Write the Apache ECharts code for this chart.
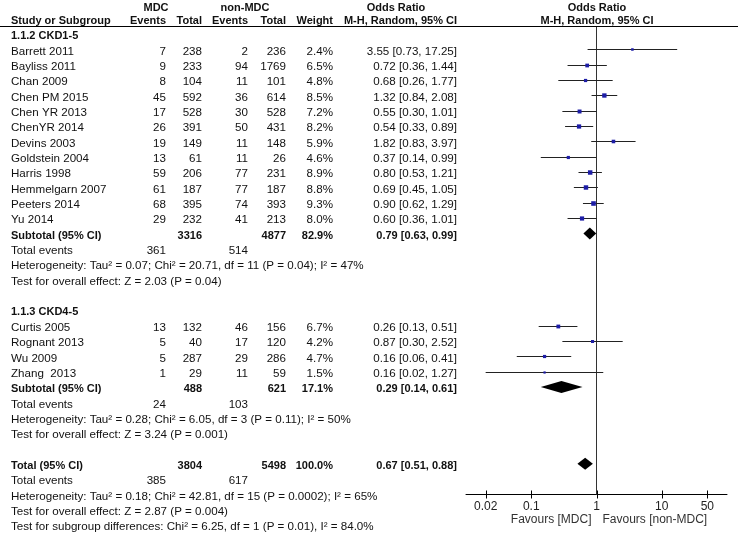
<!DOCTYPE html>
<html><head><meta charset="utf-8">
<script src="https://cdn.jsdelivr.net/npm/echarts@6/dist/echarts.min.js"></script>
<style>html,body{margin:0;padding:0;background:#fff}#c{width:738px;height:533px}</style>
</head><body><div id="c"></div>
<script>
// ---- data ----
const groupNames = ["1.1.2 CKD1-5", "1.1.3 CKD4-5"];
const studies1 = ["Barrett 2011","Bayliss 2011","Chan 2009","Chen PM 2015","Chen YR 2013","ChenYR 2014","Devins 2003","Goldstein 2004","Harris 1998","Hemmelgarn 2007","Peeters 2014","Yu 2014"];
const mdcEvents1 = [7,9,8,45,17,26,19,13,59,61,68,29];
const mdcTotal1 = [238,233,104,592,528,391,149,61,206,187,395,232];
const nonEvents1 = [2,94,11,36,30,50,11,11,77,77,74,41];
const nonTotal1 = [236,1769,101,614,528,431,148,26,231,187,393,213];
const weight1 = [2.4,6.5,4.8,8.5,7.2,8.2,5.9,4.6,8.9,8.8,9.3,8.0];
const or1 = [3.55,0.72,0.68,1.32,0.55,0.54,1.82,0.37,0.80,0.69,0.90,0.60];
const lo1 = [0.73,0.36,0.26,0.84,0.30,0.33,0.83,0.14,0.53,0.45,0.62,0.36];
const hi1 = [17.25,1.44,1.77,2.08,1.01,0.89,3.97,0.99,1.21,1.05,1.29,1.01];

const studies2 = ["Curtis 2005","Rognant 2013","Wu 2009","Zhang  2013"];
const mdcEvents2 = [13,5,5,1];
const mdcTotal2 = [132,40,287,29];
const nonEvents2 = [46,17,29,11];
const nonTotal2 = [156,120,286,59];
const weight2 = [6.7,4.2,4.7,1.5];
const or2 = [0.26,0.87,0.16,0.16];
const lo2 = [0.13,0.30,0.06,0.02];
const hi2 = [0.51,2.52,0.41,1.27];

// subtotal / total: [mdcTotal, nonTotal, weight, or, lo, hi, mdcEvents, nonEvents]
const subtotal1 = [3316,4877,82.9,0.79,0.63,0.99,361,514];
const subtotal2 = [488,621,17.1,0.29,0.14,0.61,24,103];
const overall = [3804,5498,100.0,0.67,0.51,0.88,385,617];

const het1 = "Heterogeneity: Tau\u00b2 = 0.07; Chi\u00b2 = 20.71, df = 11 (P = 0.04); I\u00b2 = 47%";
const test1 = "Test for overall effect: Z = 2.03 (P = 0.04)";
const het2 = "Heterogeneity: Tau\u00b2 = 0.28; Chi\u00b2 = 6.05, df = 3 (P = 0.11); I\u00b2 = 50%";
const test2 = "Test for overall effect: Z = 3.24 (P = 0.001)";
const hetAll = "Heterogeneity: Tau\u00b2 = 0.18; Chi\u00b2 = 42.81, df = 15 (P = 0.0002); I\u00b2 = 65%";
const testAll = "Test for overall effect: Z = 2.87 (P = 0.004)";
const testSub = "Test for subgroup differences: Chi\u00b2 = 6.25, df = 1 (P = 0.01), I\u00b2 = 84.0%";

const tickValues = [0.02, 0.1, 1, 10, 50];
const favoursLeft = "Favours [MDC]";
const favoursRight = "Favours [non-MDC]";

// ---- layout ----
const FONT = "'Liberation Sans', Arial, sans-serif";
const COL = {left: 11, mdcEv: 166, mdcTot: 202, nonEv: 248, nonTot: 286, weight: 333, or: 457};
const texts = [];
function add(row, text, x, align, bold, dy) {
  texts.push({row, text: String(text), x, align, bold: !!bold, dy: dy || 0});
}
const fmtCI = (o, l, h) => o.toFixed(2) + " [" + l.toFixed(2) + ", " + h.toFixed(2) + "]";

// headers
add(-2, "MDC", 156, "center", true, 2.5);
add(-2, "non-MDC", 245, "center", true, 2.5);
add(-2, "Odds Ratio", 396, "center", true, 2.5);
add(-2, "Odds Ratio", 597, "center", true, 2.5);
add(-1, "Study or Subgroup", COL.left, "left", true);
add(-1, "Events", COL.mdcEv, "right", true);
add(-1, "Total", COL.mdcTot, "right", true);
add(-1, "Events", COL.nonEv, "right", true);
add(-1, "Total", COL.nonTot, "right", true);
add(-1, "Weight", COL.weight, "right", true);
add(-1, "M-H, Random, 95% CI", COL.or, "right", true);
add(-1, "M-H, Random, 95% CI", 597, "center", true);

const studyPts = [];
const diamondPts = [];

function addGroup(startRow, name, st, me, mt, ne, nt, w, o, l, h, sub, het, test) {
  add(startRow, name, COL.left, "left", true);
  st.forEach((s, i) => {
    const r = startRow + 1 + i;
    add(r, s, COL.left, "left");
    add(r, me[i], COL.mdcEv, "right");
    add(r, mt[i], COL.mdcTot, "right");
    add(r, ne[i], COL.nonEv, "right");
    add(r, nt[i], COL.nonTot, "right");
    add(r, w[i].toFixed(1) + "%", COL.weight, "right");
    add(r, fmtCI(o[i], l[i], h[i]), COL.or, "right");
    studyPts.push([o[i], l[i], h[i], r, w[i]]);
  });
  const sr = startRow + 1 + st.length;
  addSummary(sr, "Subtotal (95% CI)", sub, het, test, false);
  return sr + 4;
}
function addSummary(sr, label, sub, het, test, extra) {
  add(sr, label, COL.left, "left", true);
  add(sr, sub[0], COL.mdcTot, "right", true);
  add(sr, sub[1], COL.nonTot, "right", true);
  add(sr, sub[2].toFixed(1) + "%", COL.weight, "right", true);
  add(sr, fmtCI(sub[3], sub[4], sub[5]), COL.or, "right", true);
  diamondPts.push([sub[3], sub[4], sub[5], sr]);
  add(sr + 1, "Total events", COL.left, "left");
  add(sr + 1, sub[6], COL.mdcEv, "right");
  add(sr + 1, sub[7], COL.nonEv, "right");
  add(sr + 2, het, COL.left, "left");
  add(sr + 3, test, COL.left, "left");
  if (extra) add(sr + 4, extra, COL.left, "left");
}
let next = addGroup(0, groupNames[0], studies1, mdcEvents1, mdcTotal1, nonEvents1, nonTotal1, weight1, or1, lo1, hi1, subtotal1, het1, test1);
next = addGroup(next + 1, groupNames[1], studies2, mdcEvents2, mdcTotal2, nonEvents2, nonTotal2, weight2, or2, lo2, hi2, subtotal2, het2, test2);
addSummary(next + 1, "Total (95% CI)", overall, hetAll, testAll, testSub);

const ROW_MIN = -0.5, ROW_MAX = 30;
const chart = echarts.init(document.getElementById('c'), null, {renderer: 'canvas'});

chart.setOption({
  animation: false,
  backgroundColor: '#fff',
  grid: {left: 466, right: 11, top: 26.3, height: 468.2},
  xAxis: {
    type: 'log', logBase: 10, min: 0.01, max: 100, position: 'bottom',
    axisLine: {show: true, onZero: false, lineStyle: {color: '#000', width: 1}},
    axisTick: {show: false}, axisLabel: {show: false}, splitLine: {show: false}
  },
  yAxis: {type: 'value', inverse: true, min: ROW_MIN, max: ROW_MAX, show: false},
  graphic: [{
    type: 'line', shape: {x1: 0, y1: 26.5, x2: 738, y2: 26.5},
    style: {stroke: '#000', lineWidth: 1}, z: 10
  }],
  series: [
    {
      type: 'line', data: [[1, ROW_MIN], [1, ROW_MAX]], symbol: 'none',
      lineStyle: {color: '#333', width: 1}, silent: true, z: 1
    },
    {
      type: 'custom', clip: false, z: 3,
      data: studyPts,
      encode: {x: 0, y: 3},
      renderItem: function (params, api) {
        const r = api.value(3);
        const p = api.coord([api.value(0), r]);
        const l = api.coord([api.value(1), r]);
        const h = api.coord([api.value(2), r]);
        const s = 1.8 + api.value(4) * 0.3;
        const y = Math.round(p[1]) + 0.5;
        return {type: 'group', children: [
          {type: 'line', shape: {x1: l[0], y1: y, x2: h[0], y2: y}, style: {stroke: '#222', lineWidth: 1}},
          {type: 'rect', shape: {x: p[0] - s / 2, y: y - s / 2, width: s, height: s}, style: {fill: '#1d1da6'}}
        ]};
      }
    },
    {
      type: 'custom', clip: false, z: 4,
      data: diamondPts,
      encode: {x: 0, y: 3},
      renderItem: function (params, api) {
        const r = api.value(3);
        const p = api.coord([api.value(0), r]);
        const l = api.coord([api.value(1), r]);
        const h = api.coord([api.value(2), r]);
        const hh = 6;
        return {type: 'polygon', shape: {points: [[l[0], p[1]], [p[0], p[1] - hh], [h[0], p[1]], [p[0], p[1] + hh]]},
          style: {fill: '#000'}};
      }
    },
    {
      type: 'custom', clip: false, z: 5,
      data: tickValues.map(v => [v, ROW_MAX]),
      encode: {x: 0, y: 1},
      renderItem: function (params, api) {
        const p = api.coord([api.value(0), api.value(1)]);
        const x = Math.round(p[0]) + 0.5;
        const children = [
          {type: 'line', shape: {x1: x, y1: p[1] - 4, x2: x, y2: p[1] + 4}, style: {stroke: '#000', lineWidth: 1}},
          {type: 'text', x: p[0], y: p[1] + 12, style: {text: String(tickValues[params.dataIndex]), fill: '#222', font: '12px ' + FONT, align: 'center', verticalAlign: 'middle'}}
        ];
        if (params.dataIndex === 0) {
          const c = api.coord([1, ROW_MAX]);
          children.push({type: 'text', x: c[0] - 5, y: p[1] + 25, style: {text: favoursLeft, fill: '#333', font: '12px ' + FONT, align: 'right', verticalAlign: 'middle'}});
          children.push({type: 'text', x: c[0] + 6, y: p[1] + 25, style: {text: favoursRight, fill: '#333', font: '12px ' + FONT, align: 'left', verticalAlign: 'middle'}});
        }
        return {type: 'group', children};
      }
    },
    {
      type: 'custom', clip: false, z: 6,
      data: texts.map(t => [1, t.row]),
      encode: {x: 0, y: 1},
      renderItem: function (params, api) {
        const t = texts[params.dataIndex];
        const y = api.coord([1, t.row])[1] + 2 + t.dy;
        return {type: 'text', x: t.x, y: y, style: {
          text: t.text, fill: '#111',
          font: (t.bold ? 'bold 11px ' : '11.6px ') + FONT,
          align: t.align, verticalAlign: 'middle'
        }};
      }
    }
  ]
});
</script>
</body></html>
